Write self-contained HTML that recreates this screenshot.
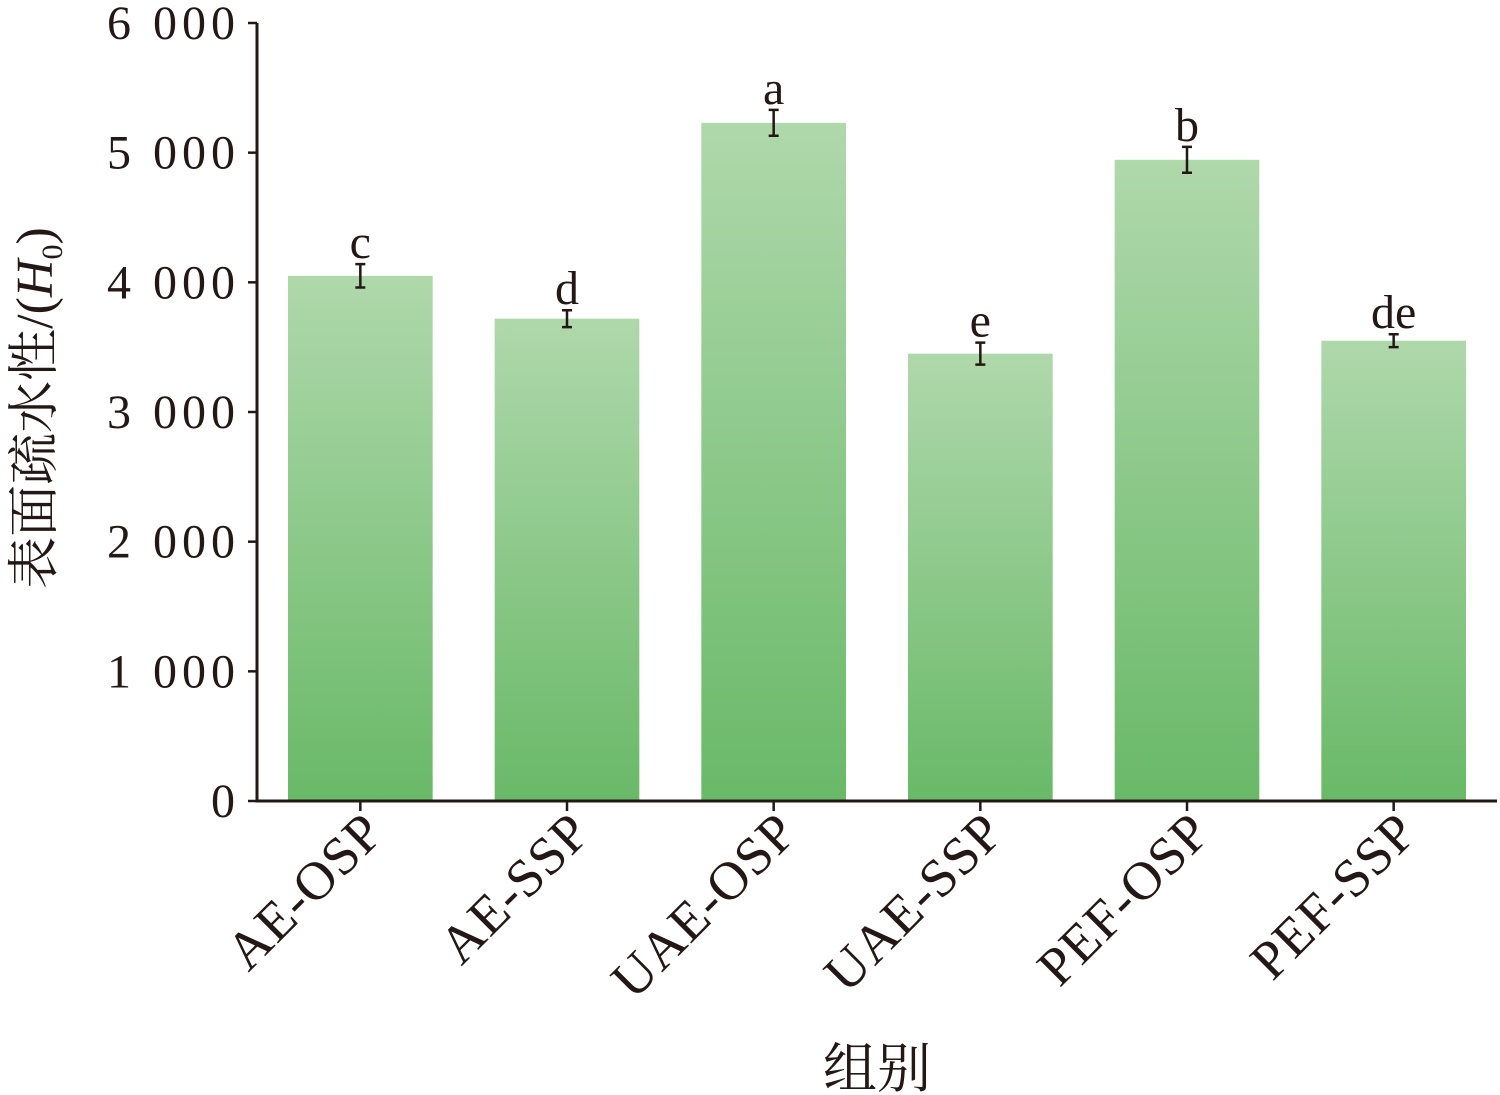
<!DOCTYPE html>
<html><head><meta charset="utf-8"><style>
body{margin:0;background:#fff}
svg{display:block}
text{font-family:"Liberation Serif","Noto Serif CJK SC",serif;fill:#231815}
</style></head><body>
<svg id="chart" width="1500" height="1095" viewBox="0 0 1500 1095" xmlns="http://www.w3.org/2000/svg">
<defs><linearGradient id="g" x1="0" y1="0" x2="0" y2="1"><stop offset="0" stop-color="#afd8ab"/><stop offset="1" stop-color="#69b968"/></linearGradient></defs>
<g id="plot"></g>
</svg>
<script>
const categories=["AE-OSP","AE-SSP","UAE-OSP","UAE-SSP","PEF-OSP","PEF-SSP"];
const values=[4050,3720,5230,3450,4945,3550];
const errors=[90,65,100,85,100,50];
const letters=["c","d","a","e","b","de"];
const yTicks=[0,1000,2000,3000,4000,5000,6000];
const yTickLabels=["0","1 000","2 000","3 000","4 000","5 000","6 000"];
const NS="http://www.w3.org/2000/svg";
const g=document.getElementById('plot');
const X0=257,X1=1497,Y0=801,Y1=23,YMAX=6000;
const band=(X1-X0)/categories.length;
const y=v=>Y0-(v/YMAX)*(Y0-Y1);
const xc=i=>X0+band*(i+0.5);
function mk(tag,attrs,text){const e=document.createElementNS(NS,tag);for(const k in attrs)e.setAttribute(k,attrs[k]);if(text!==undefined)e.textContent=text;g.appendChild(e);return e;}
categories.forEach((c,i)=>{
  const w=band*0.7;
  const b=mk('rect',{x:xc(i)-w/2,y:y(values[i]),width:w,height:Y0-y(values[i]),fill:'url(#g)'});
  
  
  const top=y(values[i]+errors[i]),bot=y(values[i]-errors[i]);
  const e=mk('path',{d:`M${xc(i)},${top}V${bot}M${xc(i)-5},${top}H${xc(i)+5}M${xc(i)-5},${bot}H${xc(i)+5}`,stroke:'#231815','stroke-width':2.5,fill:'none'});
  
  
  const l=mk('text',{x:xc(i),y:top-6,'font-size':48,'text-anchor':'middle'},letters[i]);
  
  
  const t=mk('path',{d:`M${xc(i)},${Y0}V${Y0+10}`,stroke:'#231815','stroke-width':2.5});
  
  
  const ax0=xc(i)+26,ay0=Y0+34;
  const tl=mk('text',{x:ax0,y:ay0,'font-size':54,'letter-spacing':1,'text-anchor':'end',transform:`rotate(-45 ${ax0} ${ay0})`},c);
  
  
});
yTicks.forEach((v,i)=>{
  const t=mk('path',{d:`M${X0-9},${y(v)}H${X0}`,stroke:'#231815','stroke-width':2.5});
  
  
  const tl=mk('text',{x:X0-17,y:y(v)+16,'font-size':48,'letter-spacing':5,'text-anchor':'end'},yTickLabels[i]);
  
  
});
const ax=mk('path',{d:`M${X0},${Y1}V${Y0}H${X1}`,stroke:'#231815','stroke-width':3,fill:'none'});


const xt=mk('text',{x:877,y:1087,'font-size':54,'text-anchor':'middle'},'组别');


const yt=mk('text',{x:52,y:408,'font-size':52,'text-anchor':'middle',transform:'rotate(-90 52 408)'});


yt.innerHTML='表面疏水性/(<tspan font-style="italic">H</tspan><tspan font-size="30" dy="10">0</tspan><tspan dy="-10">)</tspan>';
</script>
</body></html>
